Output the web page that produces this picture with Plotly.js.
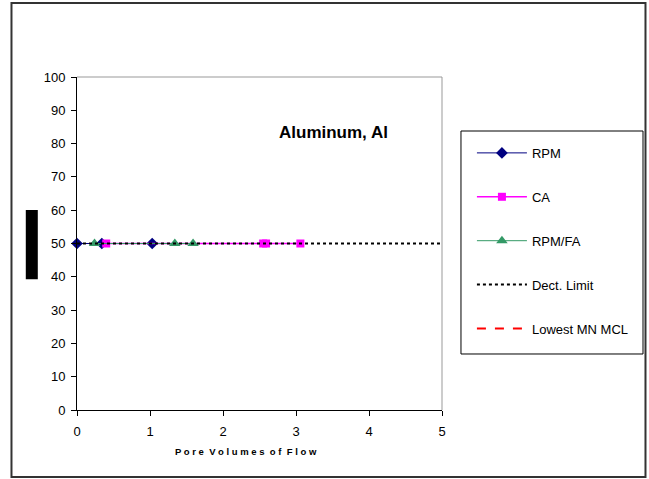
<!DOCTYPE html>
<html>
<head>
<meta charset="utf-8">
<script src="https://cdn.plot.ly/plotly-3.0.1.min.js"></script>
<style>html,body{margin:0;padding:0;background:#fff;}#chart{width:649px;height:479px;}</style>
</head>
<body>
<div id="chart"></div>
<script>
const rpmX = [0, 0.34, 1.03];
const rpmY = [50, 50, 50];
const caX = [0.40, 2.55, 2.59, 3.06];
const caY = [50, 50, 50, 50];
const faX = [0.24, 1.34, 1.59];
const faY = [50, 50, 50];
const dectX = [0, 5];
const dectY = [50, 50];
const mclX = [0, 5];
const mclY = [null, null];
const xTicks = [0, 1, 2, 3, 4, 5];
const yTicks = [0, 10, 20, 30, 40, 50, 60, 70, 80, 90, 100];

const traces = [
  {x: rpmX, y: rpmY, name: 'RPM', mode: 'lines+markers', legendgroup: 'a',
   line: {color: '#000080', width: 1}, marker: {symbol: 'diamond', size: 9, color: '#000080'}, cliponaxis: false},
  {x: caX, y: caY, name: 'CA', mode: 'lines+markers', legendgroup: 'b',
   line: {color: '#FF00FF', width: 1.5}, marker: {symbol: 'square', size: 8, color: '#FF00FF'}, cliponaxis: false},
  {x: faX, y: faY, name: 'RPM/FA', mode: 'lines+markers', legendgroup: 'c',
   line: {color: '#339966', width: 1}, marker: {symbol: 'triangle-up', size: 10, color: '#339966'}, cliponaxis: false},
  {x: dectX, y: dectY, name: 'Dect. Limit', mode: 'lines', legendgroup: 'd',
   line: {color: '#000000', width: 2, dash: 'dot'}},
  {x: mclX, y: mclY, name: 'Lowest MN MCL', mode: 'lines', legendgroup: 'e',
   line: {color: '#FF0000', width: 2, dash: 'dash'}}
];

const font = {family: 'Liberation Sans, Arial, sans-serif', color: '#000', size: 13};

const layout = {
  width: 649, height: 479,
  margin: {l: 77, r: 207, t: 77, b: 69},
  paper_bgcolor: '#fff', plot_bgcolor: '#fff',
  font: font,
  showlegend: true,
  legend: {x: 1.082, y: 0.817, xanchor: 'left', yanchor: 'top',
    borderwidth: 0, bgcolor: 'rgba(0,0,0,0)',
    font: {family: 'Liberation Sans, Arial, sans-serif', size: 13, color: '#000'},
    tracegroupgap: 24, itemwidth: 50},
  xaxis: {range: [0, 5], tickvals: xTicks, ticktext: xTicks.map(String),
    showgrid: false, zeroline: false, showline: true, linecolor: '#000', linewidth: 1,
    ticks: 'outside', ticklen: 5, tickcolor: '#000', ticklabelstandoff: 4,
    tickfont: {size: 13}},
  yaxis: {range: [0, 100], tickvals: yTicks, ticktext: yTicks.map(String),
    showgrid: false, zeroline: false, showline: true, linecolor: '#000', linewidth: 1,
    ticks: 'outside', ticklen: 5, tickcolor: '#000', ticklabelstandoff: 3, tickfont: {size: 13}},
  annotations: [
    {xref: 'paper', yref: 'paper', x: 0.704, y: 0.832, xanchor: 'center', yanchor: 'middle',
     text: '<b>Aluminum, Al</b>', showarrow: false, font: {size: 17, color: '#000'}},
    {xref: 'paper', yref: 'paper', x: 0.463, y: -0.126, xanchor: 'center', yanchor: 'middle',
     text: '<b>P o r e  V o l u m e s  o f  F l o w</b>', showarrow: false, font: {size: 9.5, color: '#000'}}
  ],
  shapes: [
    {type: 'line', xref: 'paper', yref: 'paper', x0: 0, x1: 1, y0: 1, y1: 1, line: {color: '#999', width: 1}},
    {type: 'line', xref: 'paper', yref: 'paper', x0: 1, x1: 1, y0: 0, y1: 1, line: {color: '#999', width: 1}},
    {type: 'rect', xref: 'paper', yref: 'paper', x0: -0.1795, x1: 1.5575, y0: -0.2012, y1: 1.222,
     line: {color: '#333', width: 2}, fillcolor: 'rgba(0,0,0,0)'},
    {type: 'rect', xref: 'paper', yref: 'paper', x0: 1.052, x1: 1.5507, y0: 0.1682, y1: 0.8378,
     line: {color: '#000', width: 1}, fillcolor: 'rgba(0,0,0,0)'},
    {type: 'rect', xref: 'paper', yref: 'paper', x0: -0.1403, x1: -0.1074, y0: 0.393, y1: 0.6006,
     line: {width: 0}, fillcolor: '#000'}
  ]
};

Plotly.newPlot('chart', traces, layout, {displayModeBar: false, staticPlot: true});
</script>
</body>
</html>
